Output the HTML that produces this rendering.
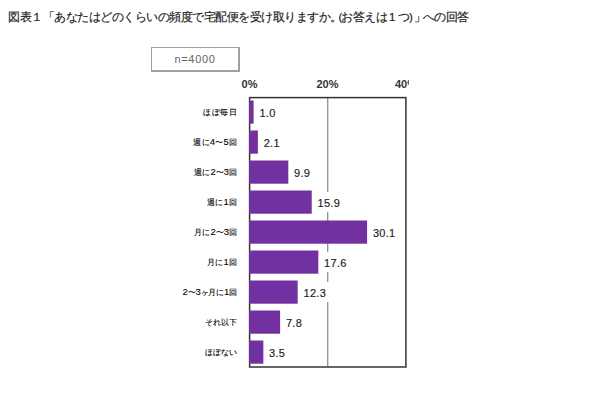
<!DOCTYPE html>
<html><head><meta charset="utf-8">
<style>
html,body{margin:0;padding:0;background:#fff;}
body{width:600px;height:400px;position:relative;overflow:hidden;font-family:"Liberation Sans",sans-serif;color:#222;}
.a{position:absolute;white-space:nowrap;}
.t{top:9px;font-size:11.5px;letter-spacing:-0.5px;line-height:16px;color:#222;-webkit-text-stroke:0.18px #222;}
#nbox{left:151px;top:47px;width:86px;height:22px;border:1px solid #a0a0a0;border-right-width:2px;border-bottom-width:2px;}
#ntext{left:0;top:0;width:86px;height:22px;line-height:22px;text-align:center;font-size:11px;letter-spacing:0.7px;color:#666;}
#clip{left:0;top:0;width:409px;height:400px;overflow:hidden;}
.ax{font-size:11px;font-weight:bold;top:77px;line-height:14px;width:40px;text-align:center;color:#333;}
svg{position:absolute;left:0;top:0;}
.val{position:absolute;font-size:11px;line-height:22px;height:20px;padding:0 4px;background:#fff;color:#222;letter-spacing:0.3px;-webkit-text-stroke:0.15px #222;}
.d{font-size:9.5px;}
.cat{position:absolute;right:362px;font-size:8px;line-height:10px;color:#000;letter-spacing:0px;-webkit-text-stroke:0.1px #000;text-align:right;}
</style></head><body>
<div class="a t" style="left:8px">図表１「あなたはどのくらいの頻度で宅配便を受け取りますか。</div>
<div class="a t" style="left:338.5px">(</div>
<div class="a t" style="left:341px">お答えは</div>
<div class="a t" style="left:389px">1</div>
<div class="a t" style="left:398px">つ</div>
<div class="a t" style="left:409px">)</div>
<div class="a t" style="left:413.5px">」</div>
<div class="a t" style="left:422.5px">への回答</div>
<div class="a" id="nbox"><div class="a" id="ntext">n=4000</div></div>
<div class="a" id="clip">
  <div class="a ax" style="left:229.5px">0%</div>
  <div class="a ax" style="left:307.5px">20%</div>
  <div class="a ax" style="left:386px">40%</div>
</div>
<svg width="600" height="400" viewBox="0 0 600 400">
  <line x1="327.7" y1="98" x2="327.7" y2="366" stroke="#909090" stroke-width="1.3"/>
  <rect x="249.6" y="97.6" width="156.3" height="269.4" fill="none" stroke="#333" stroke-width="1.5"/>
  <g fill="#7131a0"><rect x="249" y="100.5" width="4.60" height="23.2"/><rect x="249" y="130.5" width="8.89" height="23.2"/><rect x="249" y="160.5" width="39.31" height="23.2"/><rect x="249" y="190.5" width="62.71" height="23.2"/><rect x="249" y="220.5" width="118.09" height="23.2"/><rect x="249" y="250.5" width="69.34" height="23.2"/><rect x="249" y="280.5" width="48.67" height="23.2"/><rect x="249" y="310.5" width="31.12" height="23.2"/><rect x="249" y="340.5" width="14.35" height="23.2"/></g>
</svg>
<div class="val" style="left:255.4px;top:102px">1.0</div>
<div class="val" style="left:259.7px;top:132px">2.1</div>
<div class="val" style="left:290.1px;top:162px">9.9</div>
<div class="val" style="left:313.5px;top:192px">15.9</div>
<div class="val" style="left:368.9px;top:222px">30.1</div>
<div class="val" style="left:320.1px;top:252px">17.6</div>
<div class="val" style="left:299.5px;top:282px">12.3</div>
<div class="val" style="left:281.9px;top:312px">7.8</div>
<div class="val" style="left:265.1px;top:342px">3.5</div>
<div class="cat" style="top:108px;letter-spacing:0.6px;right:362.40px">ほぼ毎日</div>
<div class="cat" style="top:137px;letter-spacing:0.2px;right:362.80px">週に<span class="d">4</span>〜<span class="d">5</span>回</div>
<div class="cat" style="top:167px;letter-spacing:0.0px;right:363.00px">週に<span class="d">2</span>〜<span class="d">3</span>回</div>
<div class="cat" style="top:197px;letter-spacing:0.27px;right:362.73px">週に<span class="d">1</span>回</div>
<div class="cat" style="top:227px;letter-spacing:0.0px;right:363.00px">月に<span class="d">2</span>〜<span class="d">3</span>回</div>
<div class="cat" style="top:257px;letter-spacing:0.27px;right:362.73px">月に<span class="d">1</span>回</div>
<div class="cat" style="top:287px;letter-spacing:-0.2px;right:363.20px"><span class="d">2</span>〜<span class="d">3</span>ヶ月に<span class="d">1</span>回</div>
<div class="cat" style="top:318px;letter-spacing:0px;right:363.00px">それ以下</div>
<div class="cat" style="top:348px;letter-spacing:0px;right:363.00px">ほぼない</div>
</body></html>
